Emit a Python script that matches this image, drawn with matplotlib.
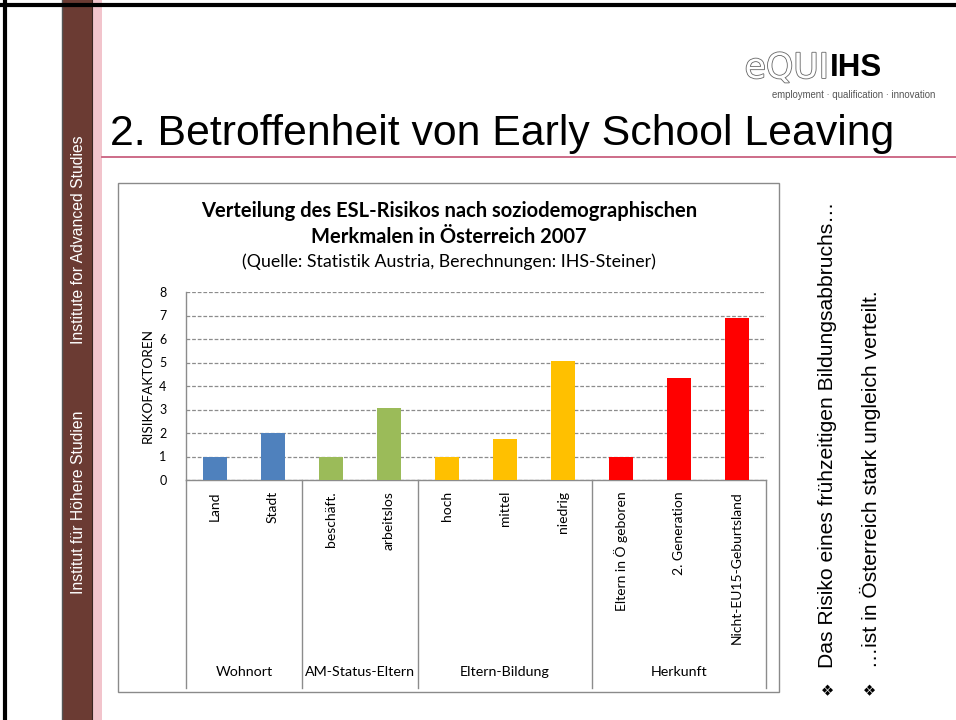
import matplotlib
matplotlib.use("Agg")
import matplotlib.pyplot as plt
import matplotlib.patheffects as pe
from matplotlib.patches import Rectangle
from matplotlib.lines import Line2D
from matplotlib.transforms import blended_transform_factory

# ---- data ----
categories = ["Land", "Stadt", "beschäft.", "arbeitslos", "hoch", "mittel", "niedrig",
              "Eltern in Ö geboren", "2. Generation", "Nicht-EU15-Geburtsland"]
values = [1.0, 2.0, 1.0, 3.08, 1.0, 1.74, 5.05, 1.0, 4.34, 6.9]
groups = ["Wohnort", "AM-Status-Eltern", "Eltern-Bildung", "Herkunft"]
group_sizes = [2, 2, 3, 3]
group_colors = ["#4F81BD", "#9BBB59", "#FFC000", "#FF0000"]
yticks = [0, 1, 2, 3, 4, 5, 6, 7, 8]

W, H = 956, 720
fig = plt.figure(figsize=(W / 100, H / 100), dpi=100)
fig.patch.set_facecolor("white")

def fx(x):
    return x / W

def fy(y):
    return 1 - y / H

# ---- slide decorations ----
bg = fig.add_axes([0, 0, 1, 1])
bg.set_xlim(0, W)
bg.set_ylim(H, 0)
bg.axis("off")
bg.add_patch(Rectangle((63, 0), 29, H, facecolor="#6B3B33", edgecolor="none"))
bg.add_patch(Rectangle((92, 0), 10, H, facecolor="#F2C4CC", edgecolor="none"))
bg.plot([62.5, 62.5], [0, H], color="#555555", lw=1)
bg.plot([92, 92], [0, H], color="#3a2420", lw=0.8)
bg.plot([0, W], [5, 5], color="black", lw=3, solid_capstyle="butt")
bg.plot([5, 5], [0, H], color="black", lw=3, solid_capstyle="butt")
bg.plot([102, W], [157, 157], color="#C9607F", lw=1.3)
# chart frame
bg.add_patch(Rectangle((118, 183), 661, 509, facecolor="white", edgecolor="#8A8A8A", lw=1))

sf = "Liberation Sans"
bg.text(79, 240, "Institute for Advanced Studies", rotation=90, color="white",
        family=sf, fontsize=11.3, ha="center", va="center")
bg.text(79, 502, "Institut für Höhere Studien", rotation=90, color="white",
        family=sf, fontsize=11.3, ha="center", va="center")

bg.text(110, 145, "2. Betroffenheit von Early School Leaving", family=sf,
        fontsize=30.8, color="black", ha="left", va="baseline")

# logo
bg.text(829, 68, "eQUI", family="DejaVu Sans", fontsize=25, color="white",
        ha="right", va="center",
        path_effects=[pe.Stroke(linewidth=1.2, foreground="#666666"), pe.Normal()])
bg.text(830, 68, "IHS", family=sf, fontsize=22.5, fontweight="bold", color="black",
        ha="left", va="center")
bg.text(935, 95, "employment · qualification · innovation", family=sf, fontsize=6.9,
        color="#555555", ha="right", va="center")

# right-side bullet text
bg.text(828, 668, "Das Risiko eines frühzeitigen Bildungsabbruchs…", rotation=90,
        family=sf, fontsize=15.2, ha="center", va="bottom")
bg.text(870, 668, "…ist in Österreich stark ungleich verteilt.", rotation=90,
        family=sf, fontsize=15.2, ha="center", va="bottom")
for xb in (828, 870):
    bg.text(xb, 688, "❖", rotation=90, family="DejaVu Sans", fontsize=11,
            ha="center", va="center")

# chart titles
cf = "Lato"
bg.text(449, 211, "Verteilung des ESL-Risikos nach soziodemographischen", family=cf,
        fontsize=14.5, fontweight="bold", ha="center", va="center")
bg.text(449, 237, "Merkmalen in Österreich 2007", family=cf,
        fontsize=14.5, fontweight="bold", ha="center", va="center")
bg.text(449, 262, "(Quelle: Statistik Austria, Berechnungen: IHS-Steiner)", family=cf,
        fontsize=12.8, ha="center", va="center")

# ---- chart ----
x0, x1, ytop, ybot = 186, 766, 292, 480
ax = fig.add_axes([fx(x0), fy(ybot), (x1 - x0) / W, (ybot - ytop) / H])
colors = []
for c, n in zip(group_colors, group_sizes):
    colors += [c] * n
xs = list(range(len(categories)))
ax.bar(xs, values, width=0.41, color=colors, zorder=3)
ax.set_xlim(-0.5, len(categories) - 0.5)
ax.set_ylim(0, 8)
ax.set_yticks(yticks)
ax.set_yticklabels([str(t) for t in yticks], family=cf, fontsize=9)
ax.yaxis.grid(True, linestyle=(0, (3, 1.5)), color="#8C8C8C", lw=0.9, zorder=0)
ax.tick_params(axis="y", length=0, pad=14)
ax.set_xticks(xs)
ax.set_xticklabels(categories, rotation=90, family=cf, fontsize=10, va="top", ha="center")
ax.tick_params(axis="x", length=0, pad=8)
for s in ("top", "right"):
    ax.spines[s].set_visible(False)
for s in ("left", "bottom"):
    ax.spines[s].set_color("#8C8C8C")
    ax.spines[s].set_linewidth(1)
ax.set_ylabel("RISIKOFAKTOREN", family=cf, fontsize=9.8, labelpad=4)

# group separators and group labels
tr = blended_transform_factory(ax.transData, fig.transFigure)
edges = [-0.5]
for n in group_sizes:
    edges.append(edges[-1] + n)
for e in edges:
    ax.add_line(Line2D([e, e], [fy(ybot), fy(688)], transform=tr, color="#8C8C8C",
                       lw=1, clip_on=False))
for g, a, b in zip(groups, edges[:-1], edges[1:]):
    ax.text((a + b) / 2, fy(672), g, transform=tr, family=cf, fontsize=10.3,
            ha="center", va="center")

fig.savefig("out.png", dpi=100)
